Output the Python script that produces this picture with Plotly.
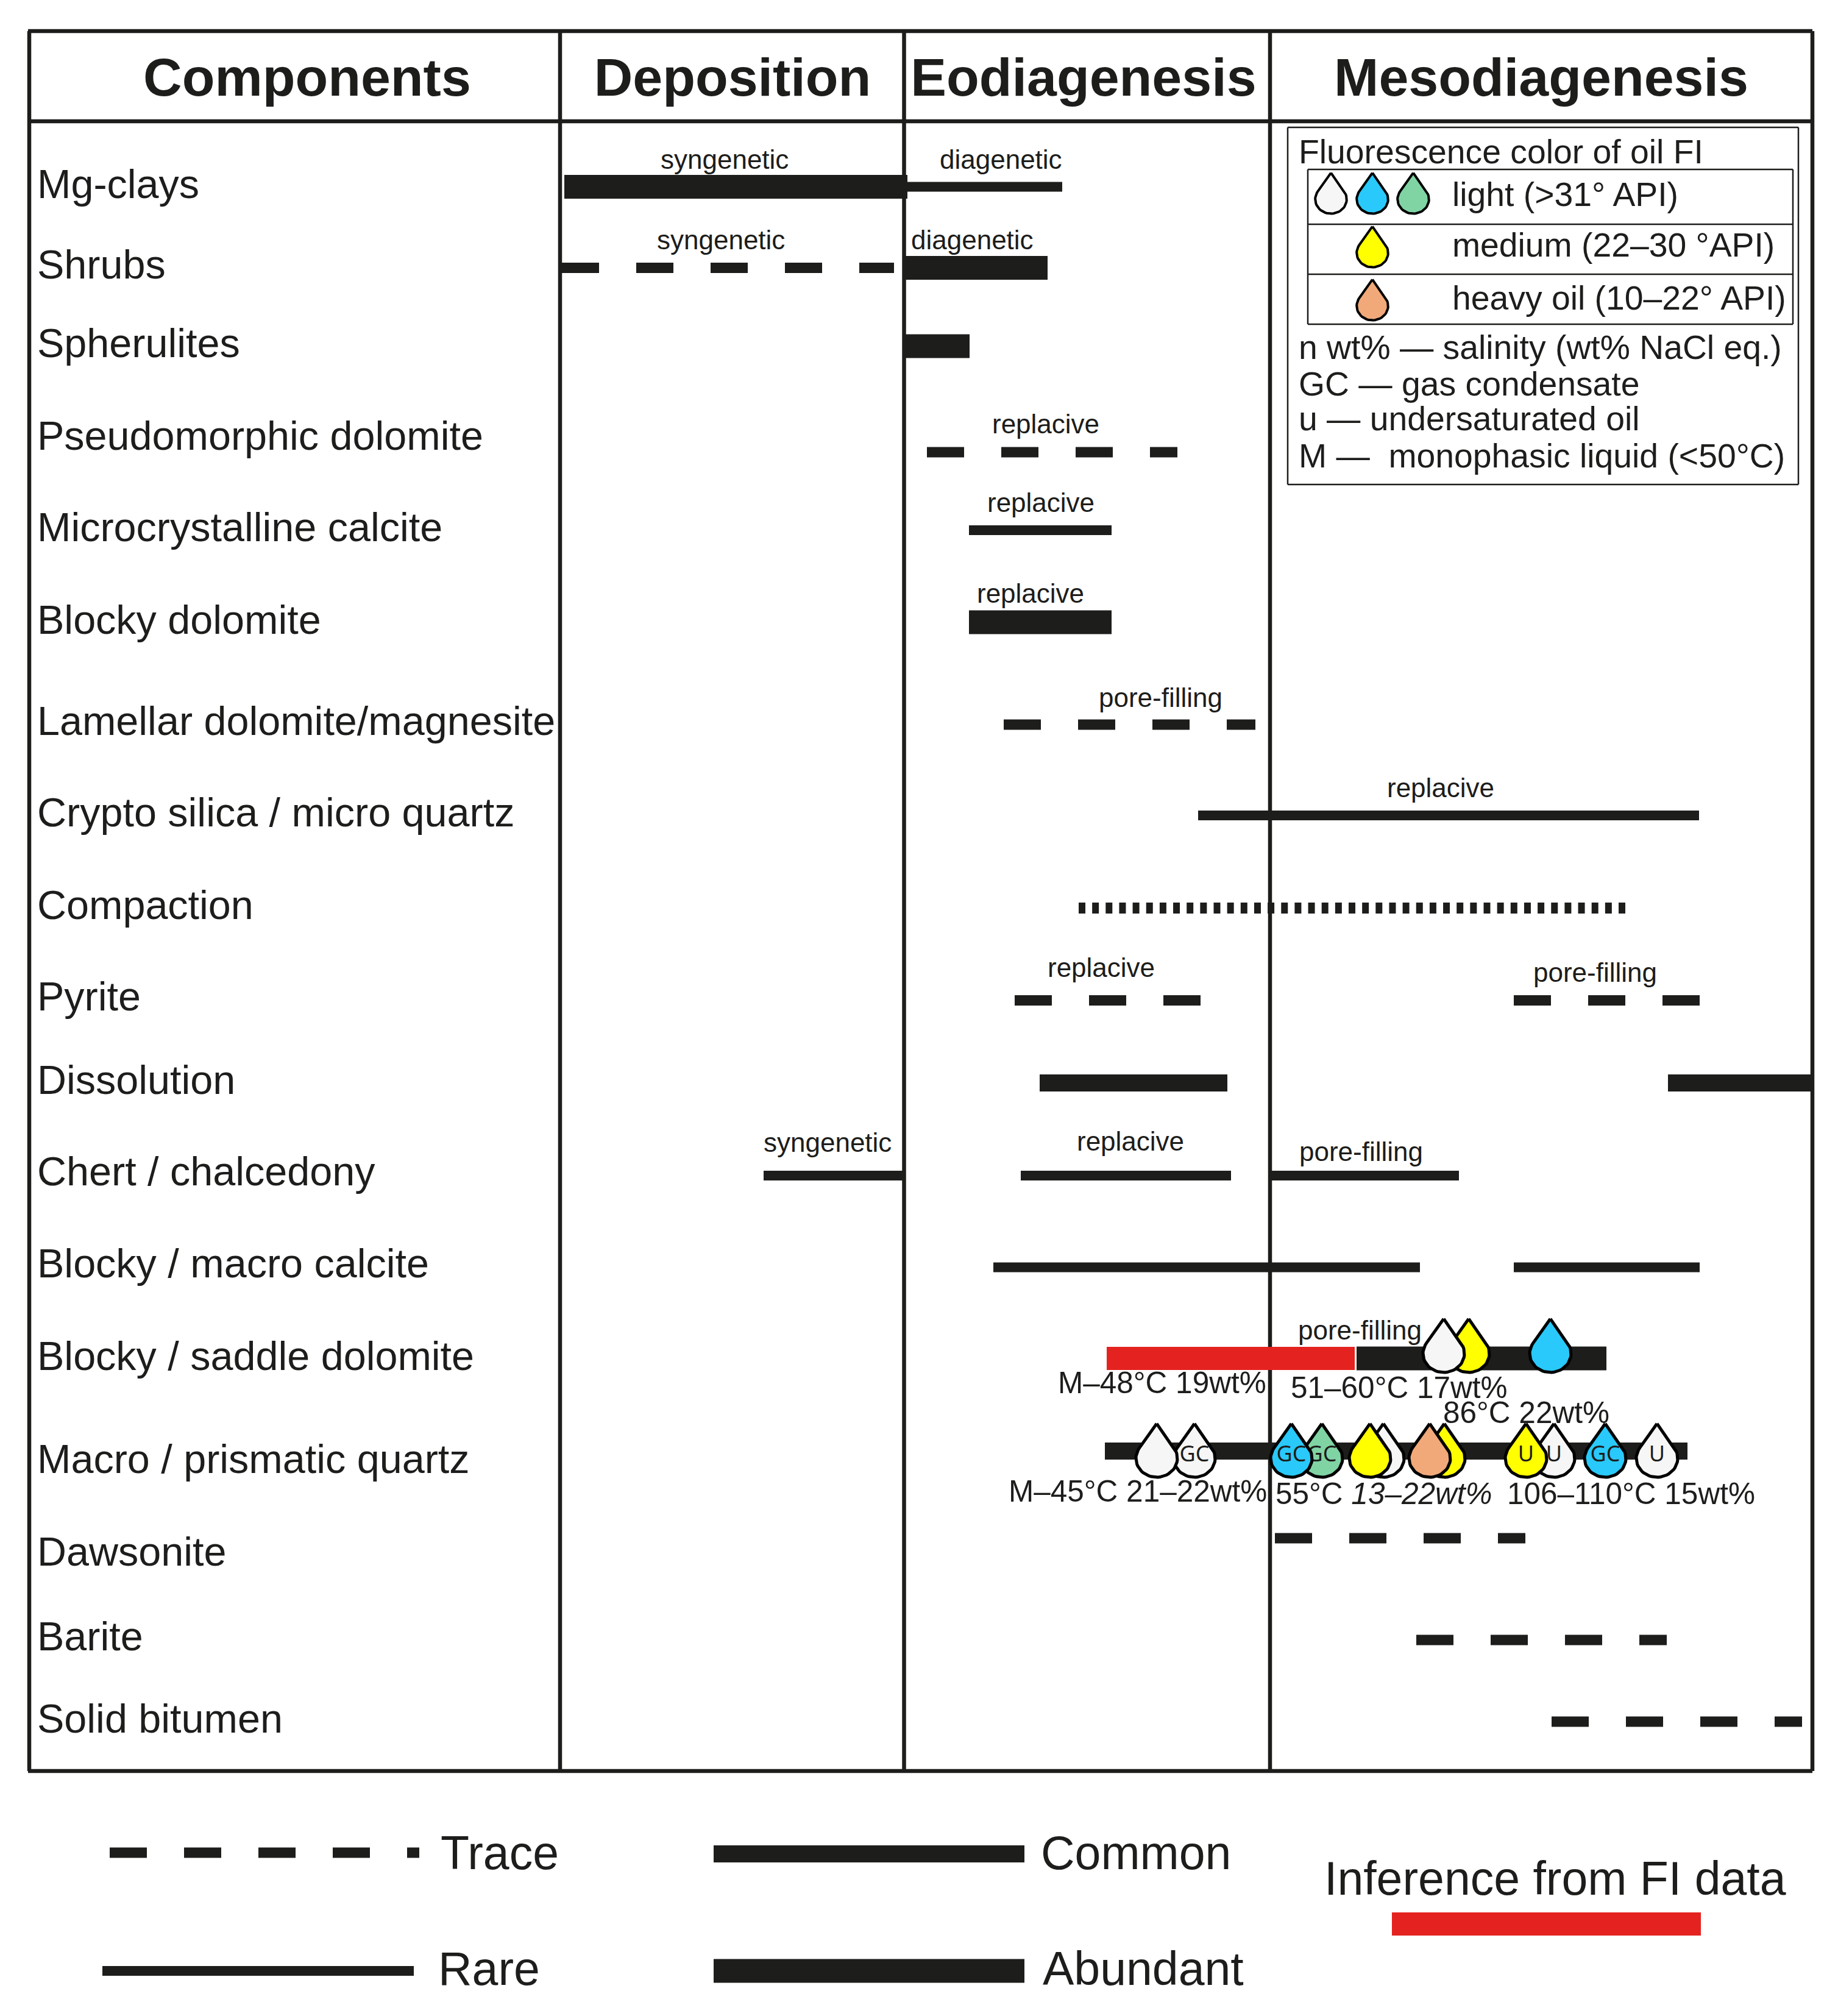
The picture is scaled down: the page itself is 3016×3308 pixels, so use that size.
import numpy as np
import plotly.graph_objects as go

# ---------------------------
# Data (x = position along the paragenetic sequence,
# y = row position, both in axis units of the full page)
# ---------------------------

components = [
    "Mg-clays", "Shrubs", "Spherulites", "Pseudomorphic dolomite", "Microcrystalline calcite",
    "Blocky dolomite", "Lamellar dolomite/magnesite", "Crypto silica / micro quartz", "Compaction",
    "Pyrite", "Dissolution", "Chert / chalcedony", "Blocky / macro calcite", "Blocky / saddle dolomite",
    "Macro / prismatic quartz", "Dawsonite", "Barite", "Solid bitumen",
]
component_y = [308, 440, 569, 721, 871, 1023, 1189, 1339, 1491, 1641, 1778, 1928, 2079, 2231, 2400, 2552, 2691, 2826]

stages = ["Components", "Deposition", "Eodiagenesis", "Mesodiagenesis"]
stage_x = [504, 1202, 1778, 2529]
stage_y = [135, 135, 135, 135]

seg_start = [926, 1489, 922, 1483, 1483, 1521, 1590, 1590, 1647, 1966, 1770, 1665, 2484, 1706, 2737,
             1253, 1675, 2084, 1630, 2484, 1816, 2226, 1813, 2092, 2324, 2546]
seg_end = [1489, 1743, 1467, 1719, 1591, 1932, 1824, 1824, 2060, 2788, 2668, 1970, 2789, 2014, 2974,
           1483, 2020, 2394, 2330, 2789, 2223, 2636, 2769, 2503, 2735, 2957]
seg_y = [306.5, 306.5, 439.5, 439.5, 568, 742, 870, 1021, 1189, 1338, 1490, 1641.5, 1641.5, 1777, 1777,
         1929, 1929, 1929, 2079.5, 2079.5, 2229, 2229, 2381, 2524, 2691, 2825]
seg_kind = ["abundant", "rare", "trace", "abundant", "abundant", "trace", "rare", "abundant", "trace", "rare",
            "dotted", "trace", "trace", "common", "common", "rare", "rare", "rare", "rare", "rare",
            "inference", "abundant", "common", "trace", "trace", "trace"]

habit_text = ["syngenetic", "diagenetic", "syngenetic", "diagenetic", "replacive", "replacive", "replacive",
              "pore-filling", "replacive", "replacive", "pore-filling", "syngenetic", "replacive",
              "pore-filling", "pore-filling"]
habit_x = [1084, 1542, 1078, 1495, 1628, 1620, 1603, 1803, 2276, 1719, 2516, 1253, 1767, 2132, 2130]
habit_y = [266, 266, 398, 398, 700, 829, 978, 1149, 1297, 1592, 1600, 1879, 1877, 1894, 2187]

fi_text = ["M–48°C 19wt%", "51–60°C 17wt%", "86°C 22wt%", "M–45°C 21–22wt%",
           "55°C <i>13–22wt%</i>", "106–110°C 15wt%"]
fi_x = [1736, 2118, 2368, 1655, 2093, 2473]
fi_y = [2274, 2282, 2323, 2452, 2456, 2456]

# listed back to front, overlaps depend on this order
drop_x = [2410, 2369, 2544, 1960, 1898, 2169, 2119, 2270, 2248, 2370, 2346, 2550, 2504, 2634, 2719]
drop_y = [2221, 2221, 2221, 2393, 2393, 2393, 2393, 2393, 2393, 2393, 2393, 2393, 2393, 2393, 2393]
drop_oil = ["yellow", "white", "blue", "white", "white", "green", "blue", "white", "yellow", "yellow", "orange",
            "white", "yellow", "blue", "white"]
drop_mark = ["", "", "", "GC", "", "GC", "GC", "", "", "", "", "U", "U", "GC", "U"]

key_drop_x = [2184, 2252, 2319, 2252, 2252]
key_drop_y = [327, 327, 327, 415, 502]
key_drop_oil = ["white", "blue", "green", "yellow", "orange"]

key_text = ["Fluorescence color of oil FI", "light (>31° API)", "medium (22–30 °API)", "heavy oil (10–22° API)",
            "n wt% — salinity (wt% NaCl eq.)", "GC — gas condensate", "u — undersaturated oil",
            "M —  monophasic liquid (<50°C)"]
key_text_x = [2131, 2383, 2383, 2383, 2131, 2131, 2131, 2131]
key_text_y = [254, 324, 407, 494, 575, 635, 692, 753]

abund_kind = ["trace", "rare", "common", "abundant", "inference"]
abund_start = [180, 168, 1171, 1171, 2284]
abund_end = [688, 679, 1681, 1681, 2791]
abund_y = [3040, 3234, 3042, 3234, 3157]
abund_text = ["Trace", "Rare", "Common", "Abundant", "Inference from FI data"]
abund_text_x = [723, 719, 1708, 1711, 2173]
abund_text_y = [3048, 3238, 3048, 3238, 3090]

# ---------------------------
# Styles
# ---------------------------

INK = "#1d1d1b"
FONT = "Liberation Sans"

seg_style = {
    "trace": dict(color=INK, width=17, dash="61px,61px"),
    "rare": dict(color=INK, width=16, dash="solid"),
    "common": dict(color=INK, width=28, dash="solid"),
    "abundant": dict(color=INK, width=39, dash="solid"),
    "inference": dict(color="#e42320", width=38, dash="solid"),
    "dotted": dict(color=INK, width=18, dash="11px,11.15px"),
}

oil_color = {
    "white": "#f6f6f6",
    "blue": "#29c9fb",
    "green": "#80d4a4",
    "yellow": "#ffff00",
    "orange": "#f1a97a",
}


def drop_outline(cx, cy, scale=1.0):
    """Closed teardrop around a body centre, tip pointing up."""
    rx, ry, tip = 34 * scale, 31 * scale, 57 * scale
    start = np.arcsin(-ry / tip)
    t = np.linspace(start, np.pi - start, 40)
    xs = np.concatenate([[cx], cx + rx * np.cos(t), [cx]])
    ys = np.concatenate([[cy - tip], cy + ry * np.sin(t), [cy - tip]])
    return xs, ys


def add_segment(fig, x0, x1, y, kind):
    fig.add_trace(go.Scatter(x=[x0, x1], y=[y, y], mode="lines", line=seg_style[kind], hoverinfo="skip"))


def add_labels(fig, xs, ys, texts, size, position="middle right", weight="normal", family=FONT):
    fig.add_trace(go.Scatter(
        x=xs, y=ys, text=texts, mode="text", textposition=position, hoverinfo="skip", cliponaxis=False,
        textfont=dict(family=family, size=size, color=INK, weight=weight),
    ))


def add_drop(fig, cx, cy, oil, scale=1.0, line_width=5):
    xs, ys = drop_outline(cx, cy, scale)
    fig.add_trace(go.Scatter(
        x=xs, y=ys, mode="lines", fill="toself", fillcolor=oil_color[oil],
        line=dict(color="#000000", width=line_width), hoverinfo="skip",
    ))


fig = go.Figure()

# Frame and table rules sit under the bars
rules = [
    (46, 51, 2974, 51), (46, 199, 2974, 199), (46, 2906, 2974, 2906), (48, 51, 48, 2906),
    (2974, 51, 2974, 2906), (919, 51, 919, 2906), (1483.5, 51, 1483.5, 2906), (2084, 51, 2084, 2906),
]
for x0, y0, x1, y1 in rules:
    fig.add_shape(type="line", x0=x0, y0=y0, x1=x1, y1=y1, line=dict(color=INK, width=6.5), layer="below")

key_rules = [
    (2113, 209, 2951, 209), (2113, 795, 2951, 795), (2113, 209, 2113, 795), (2951, 209, 2951, 795),
    (2146, 278, 2942, 278), (2146, 368, 2942, 368), (2146, 450, 2942, 450), (2146, 532, 2942, 532),
    (2146, 278, 2146, 532), (2942, 278, 2942, 532),
]
for x0, y0, x1, y1 in key_rules:
    fig.add_shape(type="line", x0=x0, y0=y0, x1=x1, y1=y1, line=dict(color=INK, width=2.5), layer="below")

for x0, x1, y, kind in zip(seg_start, seg_end, seg_y, seg_kind):
    add_segment(fig, x0, x1, y, kind)
for x0, x1, y, kind in zip(abund_start, abund_end, abund_y, abund_kind):
    add_segment(fig, x0, x1, y, kind)

add_labels(fig, stage_x, stage_y, stages, 88, position="middle center", weight="bold")
add_labels(fig, [61] * len(components), component_y, components, 66.5)
add_labels(fig, habit_x, habit_y, habit_text, 44)
add_labels(fig, fi_x, fi_y, fi_text, 49.5)
add_labels(fig, key_text_x, key_text_y, key_text, 55.3)
add_labels(fig, abund_text_x, abund_text_y, abund_text, 77)

for cx, cy, oil, mark in zip(drop_x, drop_y, drop_oil, drop_mark):
    add_drop(fig, cx, cy, oil)
    if mark:
        add_labels(fig, [cx], [cy - 4], [mark], 36, position="middle center", family="Noto Sans")

for cx, cy, oil in zip(key_drop_x, key_drop_y, key_drop_oil):
    add_drop(fig, cx, cy, oil, scale=0.76, line_width=4)

fig.update_xaxes(range=[0, 3016], visible=False, fixedrange=True)
fig.update_yaxes(range=[3308, 0], visible=False, fixedrange=True)
fig.update_layout(
    width=3016,
    height=3308,
    margin=dict(l=0, r=0, t=0, b=0),
    paper_bgcolor="white",
    plot_bgcolor="white",
    showlegend=False,
)

# the page's default body margin would push the figure off the window
fig.write_html("out.html", config=dict(displayModeBar=False), post_script="document.body.style.margin='0';")
